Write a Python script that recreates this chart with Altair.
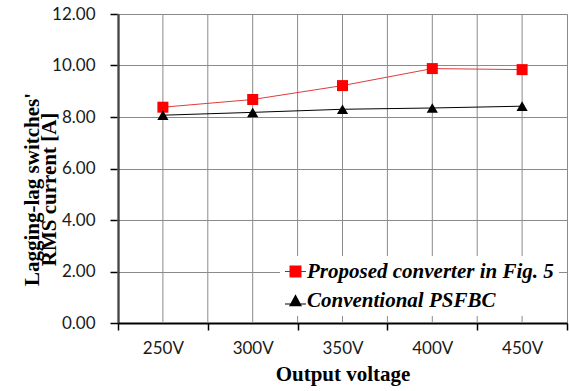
import altair as alt
import pandas as pd

voltages = ["250V", "300V", "350V", "400V", "450V"]
proposed = [8.38, 8.68, 9.22, 9.88, 9.84]
conventional = [8.07, 8.18, 8.30, 8.35, 8.42]
series_names = ["Proposed converter in Fig. 5", "Conventional PSFBC"]
series_colors = ["#ff0000", "#000000"]
line_colors = ["#e03c3c", "#000000"]
y_ticks = [0, 2, 4, 6, 8, 10, 12]

GRID = "#8a8a8a"

df = pd.DataFrame({
    "voltage": voltages * 2,
    "value": proposed + conventional,
    "series": [series_names[0]] * len(voltages) + [series_names[1]] * len(voltages),
})
grid_df = pd.DataFrame({"voltage": voltages})

x_scale = alt.Scale(type="band", domain=voltages, paddingInner=0, paddingOuter=0)
y_scale = alt.Scale(domain=[0, 12], nice=False)

x_axis = alt.Axis(
    title="Output voltage", tickBand="extent", grid=False,
    domainColor="black", domainWidth=2, tickColor="black", tickSize=7, tickWidth=1.5,
    labelFont="Lato", labelFontSize=17, labelColor="#1a1a1a", labelPadding=10, labelAngle=0,
    titleFont="Liberation Serif", titleFontWeight="bold", titleFontSize=21, titleColor="black",
    titleY=57, titleBaseline="alphabetic",
)
y_axis = alt.Axis(
    values=y_ticks, format=".2f", grid=True, gridColor=GRID, gridWidth=1,
    domainColor="black", domainWidth=2, tickColor="black", tickSize=8, tickWidth=1.5,
    labelFont="Lato", labelFontSize=17, labelColor="#1a1a1a", labelPadding=15,
    title=["Lagging-lag switches'", "RMS current [A]"],
    titleFont="Liberation Serif", titleFontWeight="bold", titleFontSize=21, titleColor="black",
    titleX=-80, titleY=175, titleAngle=270, titleAlign="center", titleBaseline="alphabetic",
    titleLineHeight=17,
)

X = alt.X("voltage:N", scale=x_scale, axis=x_axis, sort=voltages)
Y = alt.Y("value:Q", scale=y_scale, axis=y_axis)

base = alt.Chart(df)

# vertical gridlines at the band boundaries and at the band centres
edge_grid = alt.Chart(grid_df).mark_rule(color=GRID, strokeWidth=1).encode(
    x=alt.X("voltage:N", scale=x_scale, axis=x_axis, sort=voltages, bandPosition=0)
)
center_grid = alt.Chart(grid_df).mark_rule(color=GRID, strokeWidth=1).encode(
    x=alt.X("voltage:N", scale=x_scale, axis=x_axis, sort=voltages, bandPosition=0.5)
)

lines = [
    base.transform_filter(alt.datum.series == s).mark_line(color=c, strokeWidth=1).encode(x=X, y=Y)
    for s, c in zip(series_names, line_colors)
]
pts_sq = base.transform_filter(alt.datum.series == series_names[0]).mark_point(
    shape="square", filled=True, color=series_colors[0], size=121, opacity=1, strokeWidth=0
).encode(x=X, y=Y)
pts_tri = base.transform_filter(alt.datum.series == series_names[1]).mark_point(
    shape="triangle-up", filled=True, color=series_colors[1], size=125, opacity=1, strokeWidth=0
).encode(x=X, y=Y)

sq_path = "M-1,-0.05H1V0.05H-1Z M-0.57,-0.57H0.57V0.57H-0.57Z"
tri_path = "M-1,0.28H1V0.38H-1Z M0,-0.6L0.62,0.55H-0.62Z"

legend = alt.Legend(
    title=None, orient="none", legendX=162, legendY=242, fillColor="white", padding=5,
    labelFont="Liberation Serif", labelFontStyle="italic", labelFontWeight="bold",
    labelFontSize=21, labelColor="black", labelOffset=1, rowPadding=7,
    symbolSize=441, symbolStrokeWidth=0, labelLimit=400,
)
legend_layer = base.transform_filter("false").mark_point(
    filled=True, size=441, opacity=1, strokeWidth=0
).encode(
    x=X, y=Y,
    color=alt.Color("series:N", scale=alt.Scale(domain=series_names, range=series_colors), legend=legend),
    shape=alt.Shape("series:N", scale=alt.Scale(domain=series_names, range=[sq_path, tri_path]), legend=legend),
)

chart = alt.layer(edge_grid, center_grid, *lines, pts_sq, pts_tri, legend_layer).properties(
    width=449, height=309,
    autosize=alt.AutoSizeParams(type="none"),
    padding={"left": 118, "top": 14, "right": 2, "bottom": 68},
    background="white",
).configure_view(stroke=GRID, strokeWidth=1)

chart.save("out.html", embed_options={"renderer": "svg", "actions": False})
